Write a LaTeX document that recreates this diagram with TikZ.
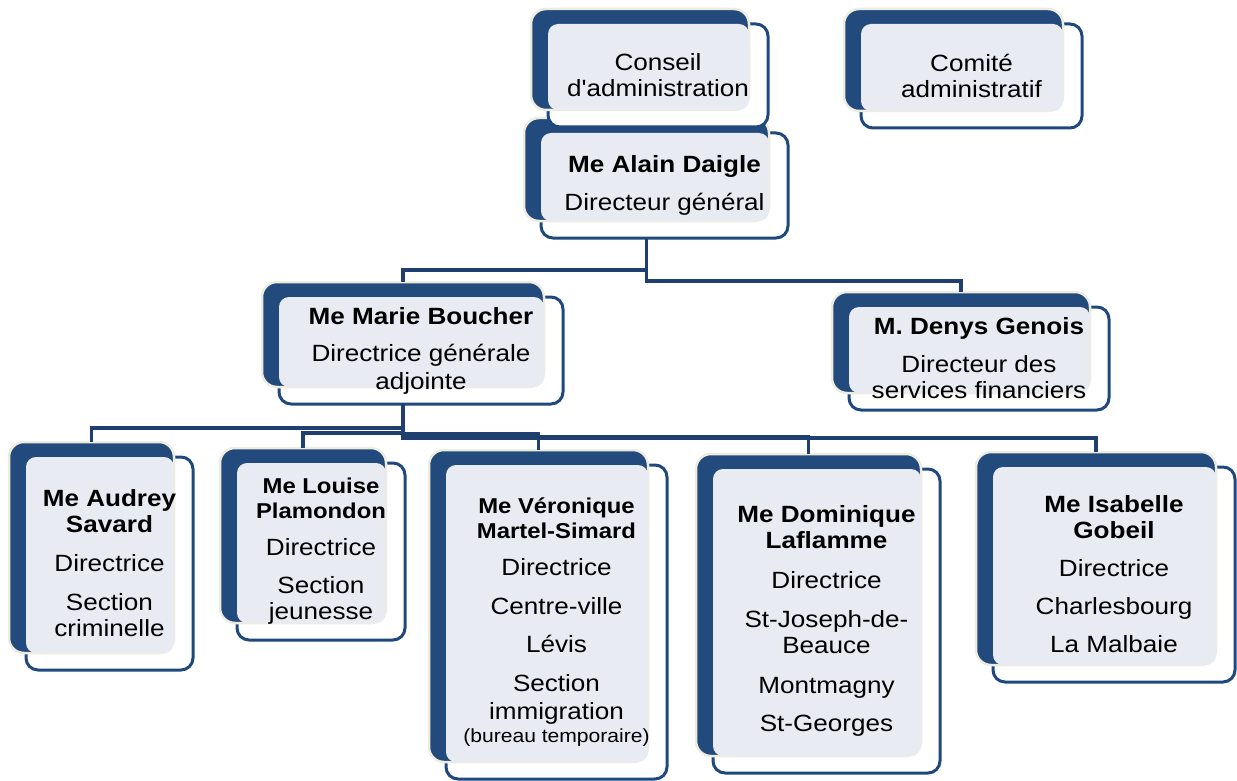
\documentclass[tikz,border=0pt]{standalone}
\usepackage{fontspec}
\newfontfamily\orgfont{Liberation Sans}[FakeStretch=1.11]
\definecolor{unitblue}{HTML}{224A7C}
\definecolor{unitline}{HTML}{1F497D}
\definecolor{unitgray}{HTML}{E8EBF1}
\definecolor{unithalo}{HTML}{EEECE1}
\definecolor{linkblue}{HTML}{1F3F6E}

% name, centre of the front box, width, height, text
\newcommand{\orgunit}[5]{%
  \node[frontbox, minimum width=#3, minimum height=#4] (#1) at (#2) {};
  \node[backbox, minimum width=#3-2, minimum height=#4-2] (#1-b) at ([xshift=-18pt,yshift=16pt]#1.center) {};
  \fill[overlap] (#1.north west) rectangle (#1-b.south east);
  \node[unittext] (#1-t) at (#1.center) {#5};
}
\newcommand{\smallname}[1]{{\fontsize{21.5}{25}\selectfont\bfseries #1}}

\begin{document}
\begin{tikzpicture}[x=1pt,y=-1pt,
    frontbox/.style={rectangle,rounded corners=12pt,draw=unitline,line width=3pt,fill=white,inner sep=0pt,outer sep=0pt},
    backbox/.style={rectangle,rounded corners=15pt,draw=unithalo,line width=2.5pt,fill=unitblue,inner sep=0pt,outer sep=0pt},
    overlap/.style={fill=unitgray,rounded corners=10pt},
    unittext/.style={align=center,inner sep=0pt,font=\orgfont\fontsize{23.5}{26}\selectfont},
    link/.style={draw=linkblue,line width=3.2pt}]
    \useasboundingbox (0,0) rectangle (1237,781);

    % top
    \orgunit{daigle}{664.5,185.5}{247}{105}{\textbf{Me Alain Daigle}\\[12pt]Directeur général}
    \orgunit{conseil}{658,75.5}{220}{103}{Conseil\\d'administration}
    \orgunit{comite}{971.5,76}{221}{104}{Comité\\administratif}

    % second level
    \orgunit{boucher}{421,350.5}{284}{107}{\textbf{Me Marie Boucher}\\[11pt]Directrice générale\\[2pt]adjointe}
    \orgunit{genois}{979,358.5}{260}{103}{\textbf{M. Denys Genois}\\[12pt]Directeur des\\services financiers}

    % sections
    \orgunit{audrey}{109.5,563.5}{167}{213}{\textbf{Me Audrey}\\\textbf{Savard}\\[13pt]Directrice\\[13pt]Section\\criminelle}
    \orgunit{louise}{321,551.5}{168}{177}{\smallname{Me Louise}\\[-1pt]\smallname{Plamondon}\\[11pt]Directrice\\[12pt]Section\\jeunesse}
    \orgunit{veronique}{556.5,622}{221}{314}{\smallname{Me Véronique}\\[-1pt]\smallname{Martel-Simard}\\[11pt]Directrice\\[13pt]Centre-ville\\[12pt]Lévis\\[13pt]Section\\[2pt]immigration\\[-3pt]{\fontsize{19}{22}\selectfont (bureau temporaire)}}
    \orgunit{dominique}{826.5,621}{227}{304}{\textbf{Me Dominique}\\\textbf{Laflamme}\\[14pt]Directrice\\[13pt]St-Joseph-de-\\Beauce\\[14pt]Montmagny\\[12pt]St-Georges}
    \orgunit{isabelle}{1114,574.5}{242}{215}{\textbf{Me Isabelle}\\\textbf{Gobeil}\\[12pt]Directrice\\[12pt]Charlesbourg\\[12pt]La Malbaie}

    \draw[link] (daigle-b |- daigle.south) -- ++(0,32) -| (boucher-b.north);
    \draw[link] (daigle-b |- daigle.south) -- ++(0,43) -| (genois-b.north);
    \draw[link] (boucher-b |- boucher.south) -- ++(0,24) -| (audrey-b.north);
    \draw[link] (boucher-b |- boucher.south) -- ++(0,29) -| (louise-b.north);
    \draw[link] (boucher-b |- boucher.south) -- ++(0,30) -| (veronique-b.north);
    \draw[link] (boucher-b |- boucher.south) -- ++(0,33) -| (dominique-b.north);
    \draw[link] (boucher-b |- boucher.south) -- ++(0,34) -| (isabelle-b.north);
\end{tikzpicture}
\end{document}
